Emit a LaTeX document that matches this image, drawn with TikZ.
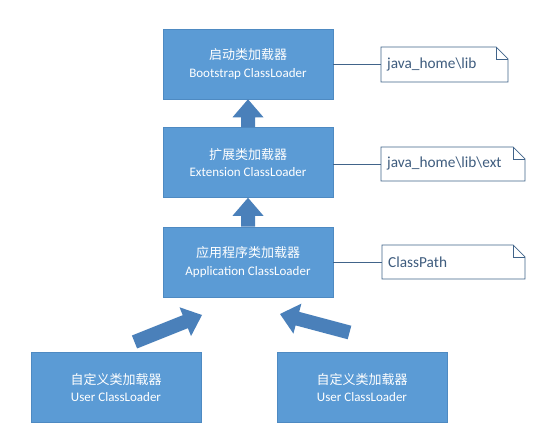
\documentclass[tikz,border=0pt]{standalone}
\usepackage{fontspec}
\setmainfont{Carlito}
\newfontfamily\cjk{Noto Sans CJK SC}
\usetikzlibrary{calc}
\definecolor{boxblue}{HTML}{5B9BD5}
\definecolor{boxedge}{HTML}{4E8AC2}
\definecolor{arrowblue}{HTML}{4A80BA}
\definecolor{noteedge}{HTML}{41648A}
\definecolor{notetext}{HTML}{3E5C7E}
\tikzset{
  loader/.style={draw=boxedge, line width=0.6pt, fill=boxblue, minimum width=170pt, minimum height=70pt,
    inner sep=0pt, align=center, text=white, font=\fontsize{13}{17.5}\selectfont},
  noteline/.style={draw=noteedge, line width=0.7pt},
  notelabel/.style={anchor=west, text=notetext, font=\fontsize{15.3}{18}\selectfont, inner sep=0pt},
  arrowfill/.style={fill=arrowblue}
}
\newcommand\blockarrow[2]{%
  \coordinate (H) at ($(#2)!18pt!(#1)$);
  \fill[arrowfill] ($(#1)!7pt!90:(#2)$) -- ($(H)!7pt!-90:(#1)$) -- ($(H)!15.5pt!-90:(#1)$) -- (#2)
     -- ($(H)!15.5pt!90:(#1)$) -- ($(H)!7pt!90:(#1)$) -- ($(#1)!7pt!-90:(#2)$) -- cycle;}
\newcommand\notebox[5]{% name, x1, y1, x2, y2
  \coordinate (#1w) at (#2, {(#3+#5)/2});
  \draw[noteline, fill=white] (#2,#3) -- ({#4-12},#3) -- (#4,{#3+12}) -- (#4,#5) -- (#2,#5) -- cycle;
  \draw[noteline] ({#4-12},#3) -- ({#4-12},{#3+12}) -- (#4,{#3+12});}
\begin{document}
\begin{tikzpicture}[x=1pt,y=-1pt]
\useasboundingbox (0,0) rectangle (552,443);
\fill[white] (0,0) rectangle (552,443);
% loaders
\node[loader] (boot) at (248,64) {{\cjk 启动类加载器}\\Bootstrap ClassLoader};
\node[loader] (ext) at (248,162.5) {{\cjk 扩展类加载器}\\Extension ClassLoader};
\node[loader] (app) at (248,262) {{\cjk 应用程序类加载器}\\Application ClassLoader};
\node[loader] (user1) at (116,387.5) {{\cjk 自定义类加载器}\\User ClassLoader};
\node[loader] (user2) at (362,387.5) {{\cjk 自定义类加载器}\\User ClassLoader};
% notes
\notebox{n1}{381}{47}{508}{82}
\notebox{n2}{381}{147}{525}{181}
\notebox{n3}{382}{245}{525}{279}
\node[notelabel] (t1) at ($(n1w)+(6,0)$) {java\_home\textbackslash lib};
\node[notelabel] (t2) at ($(n2w)+(6,0)$) {java\_home\textbackslash lib\textbackslash ext};
\node[notelabel] (t3) at ($(n3w)+(6,0)$) {ClassPath};
\draw[noteline] (boot.east |- n1w) -- (n1w);
\draw[noteline] (ext.east |- n2w) -- (n2w);
\draw[noteline] (app.east |- n3w) -- (n3w);
% arrows
\coordinate (a1t) at (ext.north);
\coordinate (a1p) at (boot.south);
\coordinate (a2t) at (app.north);
\coordinate (a2p) at (ext.south);
\coordinate (a3t) at (134.5,342);
\coordinate (a3p) at (202,315);
\coordinate (a4t) at (349.5,332.5);
\coordinate (a4p) at (280,314);
\blockarrow{a1t}{a1p}
\blockarrow{a2t}{a2p}
\blockarrow{a3t}{a3p}
\blockarrow{a4t}{a4p}
\end{tikzpicture}
\end{document}
